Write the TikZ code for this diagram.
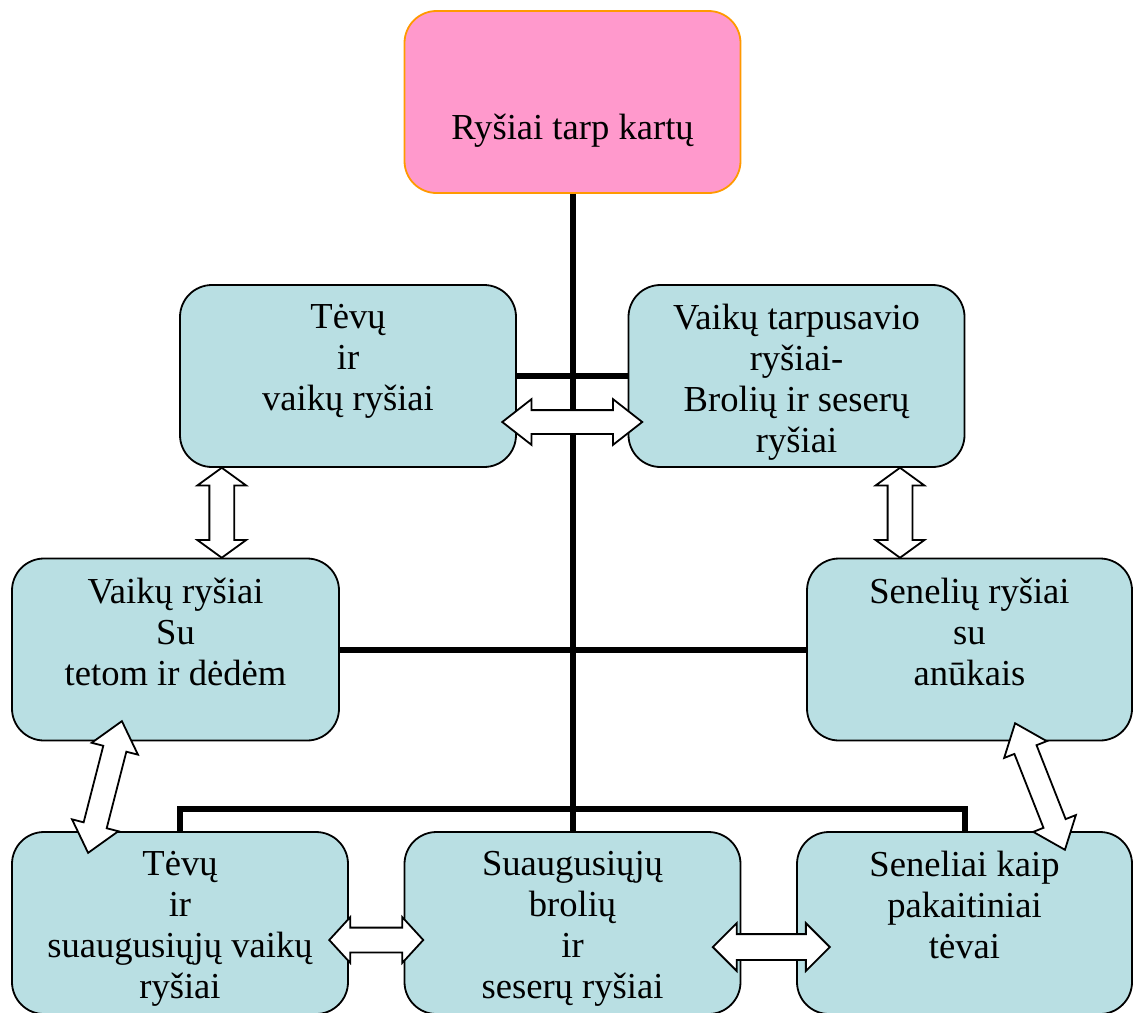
\documentclass[tikz,border=0pt]{standalone}
\usepackage{fontspec}
\setmainfont{Liberation Serif}
\usetikzlibrary{shapes.arrows,calc}

\definecolor{KartuPink}{HTML}{FF99CC}
\definecolor{KartuOrange}{HTML}{FF9900}
\definecolor{RysysBlue}{HTML}{B9DFE3}

\begin{document}
\begin{tikzpicture}[x=1pt, y=-1pt,
  every node/.style={font=\fontsize{36.6}{41}\selectfont},
  rysys/.style={draw=black, line width=1.8pt, fill=RysysBlue, rounded corners=32pt,
    minimum width=336pt, minimum height=182pt, inner sep=0pt},
  kartos/.style={rysys, draw=KartuOrange, fill=KartuPink},
  tekstas/.style={align=center, anchor=north, inner sep=0pt, yshift=-20pt},
  jungtis/.style={line width=6pt, black},
  dvigubas/.style={double arrow, draw=black, fill=white, line width=1.8pt,
    inner xsep=0pt, inner ysep=11pt, double arrow head indent=0pt}]

\clip (0,0) rectangle (1134,1012);

% Boxes
\node[kartos] (top) at (572.5,102) {};
\node[rysys] (tv) at (348,376) {};
\node[rysys] (vt) at (796.5,376) {};
\node[rysys, minimum width=327pt] (vd) at (175.5,649.5) {};
\node[rysys, minimum width=325pt] (sa) at (969.5,649.5) {};
\node[rysys] (bl) at (180,923) {};
\node[rysys] (bm) at (572.5,923) {};
\node[rysys, minimum width=335pt] (br) at (964.5,923) {};

% Lines
\draw[jungtis] (top.south) -- (bm.north);
\draw[jungtis] (tv.east) -- (vt.west);
\draw[jungtis] (vd.east) -- (sa.west);
\draw[jungtis] (bl.north) -- ++(0,-22) -| (br.north);

% Labels
\node[inner sep=0pt] (top-t) at ([yshift=-29pt]top.center) {Ryšiai tarp kartų};
\node[tekstas] (tv-t) at (tv.north) {Tėvų\\ir\\vaikų ryšiai};
\node[tekstas] (vt-t) at (vt.north) {Vaikų tarpusavio\\ryšiai-\\Brolių ir seserų\\ryšiai};
\node[tekstas] (vd-t) at (vd.north) {Vaikų ryšiai\\Su\\tetom ir dėdėm};
\node[tekstas] (sa-t) at (sa.north) {Senelių ryšiai\\su\\anūkais};
\node[tekstas] (bl-t) at (bl.north) {Tėvų\\ir\\suaugusiųjų vaikų\\ryšiai};
\node[tekstas] (bm-t) at (bm.north) {Suaugusiųjų\\brolių\\ir\\seserų ryšiai};
\node[tekstas] (br-t) at (br.north) {Seneliai kaip\\pakaitiniai\\tėvai};

% Arrows
\node[dvigubas, minimum height=140pt, double arrow head extend=11pt,
  double arrow tip angle=76] (a1) at ($(tv.east)!0.5!(vt.west)+(0,46)$) {};
\node[dvigubas, rotate=90, minimum height=90pt, inner ysep=11.5pt, double arrow head extend=12pt,
  double arrow tip angle=108] (a2) at ($(tv.south)!0.5!(vd.north)+(-40,0)$) {};
\node[dvigubas, rotate=90, minimum height=90pt, inner ysep=11.5pt, double arrow head extend=12pt,
  double arrow tip angle=108] (a3) at ($(vt.south)!0.5!(sa.north)+(17,0)$) {};
\node[dvigubas, rotate=75.6, minimum height=136pt, double arrow head extend=12pt,
  double arrow tip angle=80] (a4) at (105,787) {};
\node[dvigubas, rotate=-68.5, minimum height=136pt, double arrow head extend=11pt,
  double arrow tip angle=78] (a5) at (1040,786.5) {};
\node[dvigubas, minimum height=94pt, inner ysep=11.5pt, double arrow head extend=10.5pt,
  double arrow tip angle=95] (a6) at ($(bl.east)!0.5!(bm.west)+(0,17)$) {};
\node[dvigubas, minimum height=117pt, inner ysep=12pt, double arrow head extend=11pt,
  double arrow tip angle=90] (a7) at ($(bm.east)!0.5!(br.west)+(2.5,24)$) {};
\end{tikzpicture}
\end{document}
